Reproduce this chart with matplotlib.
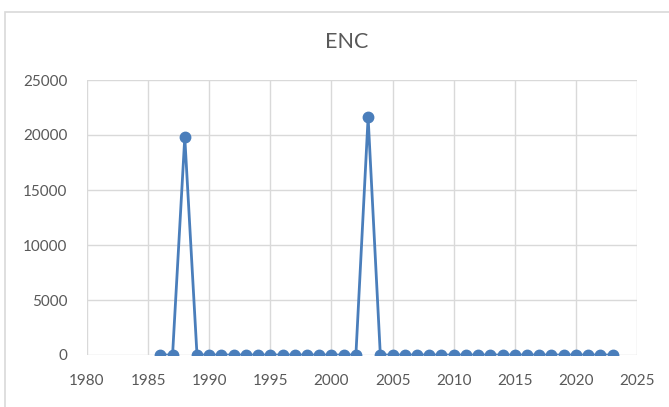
import numpy as np
import matplotlib.pyplot as plt
from matplotlib.patches import Rectangle

# ENC per year
years = list(range(1986, 2024))
enc = [0] * len(years)
enc[years.index(1988)] = 19800
enc[years.index(2003)] = 21600

xticks = [1980, 1985, 1990, 1995, 2000, 2005, 2010, 2015, 2020, 2025]
yticks = [0, 5000, 10000, 15000, 20000, 25000]

plt.rcParams['font.family'] = ['Lato', 'DejaVu Sans']

fig = plt.figure(figsize=(6.69, 4.07), dpi=100)
ax = fig.add_axes([87/669, 1 - 355/407, (637 - 87)/669, (355 - 80)/407])

# chart frame (excel-style), cut off at right/bottom
fig.patches.append(Rectangle((5/669, -0.1), 1.2, 0.1 + 1 - 12/407, transform=fig.transFigure,
                             fill=False, edgecolor='#d9d9d9', linewidth=1.2))

ax.plot(years, enc, color='#4a7ebb', linewidth=2, marker='o', markersize=7.5, zorder=3)

ax.set_xlim(1980, 2025)
ax.set_ylim(0, 25000)
ax.set_xticks(xticks)
ax.set_yticks(yticks)
ax.grid(True, color='#d9d9d9', linewidth=1)
ax.set_axisbelow(True)
for s in ax.spines.values():
    s.set_visible(False)
ax.tick_params(length=0, colors='#595959', labelsize=11)
ax.tick_params(axis='y', pad=14)
ax.tick_params(axis='x', pad=14)

fig.text(0.5 + 12/669, 1 - 42/407, 'ENC', ha='center', va='center', fontsize=15.5, color='#595959')

fig.savefig('out.png', dpi=100)
